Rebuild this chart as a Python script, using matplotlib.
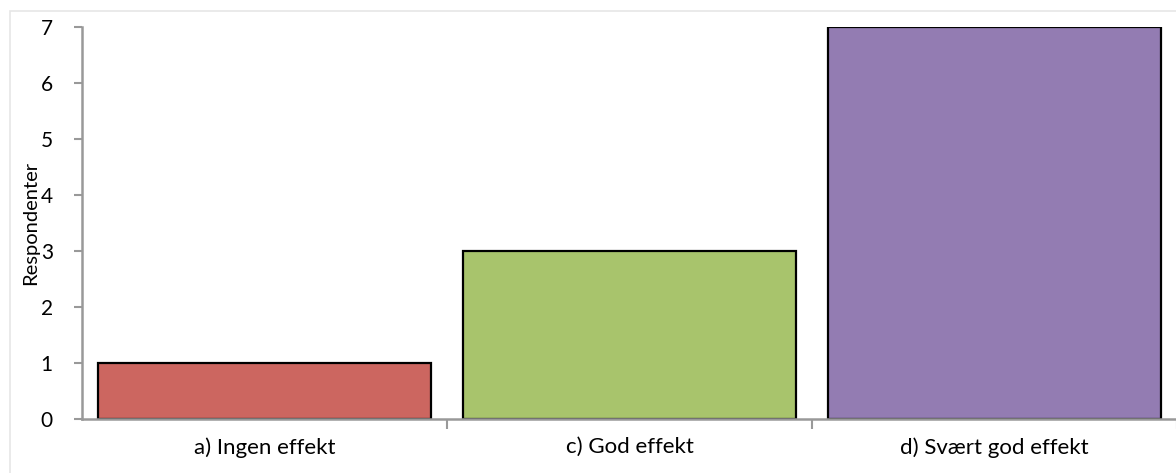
import matplotlib.pyplot as plt
from matplotlib.patches import Rectangle

categories = ["a) Ingen effekt", "c) God effekt", "d) Svært god effekt"]
counts = [1, 3, 7]
colors = ["#CC6660", "#A8C46C", "#937CB2"]

plt.rcParams['font.family'] = ['Lato', 'DejaVu Sans']

fig = plt.figure(figsize=(11.76, 4.73), dpi=100)
# outer chart frame (runs off the right edge)
fig.patches.append(Rectangle((10 / 1176, -0.1), 1.2, 1 - 11 / 473 + 0.1,
                             transform=fig.transFigure, fill=False,
                             edgecolor="#E6E6E6", linewidth=1.2))

ax = fig.add_axes([82 / 1176, 1 - 419 / 473, 1095 / 1176, 392 / 473])
x = range(len(categories))
ax.bar(x, counts, width=0.91, color=colors, edgecolor="black", linewidth=1.6, zorder=2)

ax.set_xlim(-0.5, len(categories) - 0.5)
ax.set_ylim(0, 7)
ax.set_yticks(range(0, 8))
ax.set_xticks(x)
ax.set_xticklabels(categories, fontsize=16)
ax.set_xticks([0.5, 1.5, 2.5], minor=True)
ax.tick_params(axis="x", which="major", length=0, pad=13)
ax.tick_params(axis="x", which="minor", length=7, width=1.5, color="#999999")
ax.tick_params(axis="y", length=6, width=1.5, color="#999999", labelsize=15, pad=15)
ax.set_ylabel("Respondenter", fontsize=14.5, labelpad=1)

for side in ("top", "right"):
    ax.spines[side].set_visible(False)
for side in ("left", "bottom"):
    ax.spines[side].set_color("#999999")
    ax.spines[side].set_linewidth(1.8)

fig.savefig("out.png", dpi=100)
